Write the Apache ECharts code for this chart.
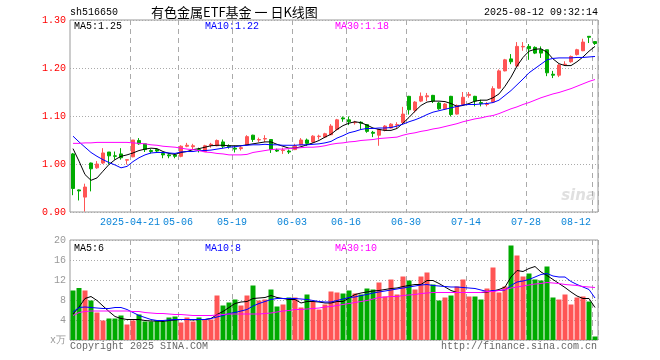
<!DOCTYPE html>
<html><head><meta charset="utf-8">
<script src="https://cdn.jsdelivr.net/npm/echarts/dist/echarts.min.js"></script>
<style>html,body{margin:0;padding:0;background:#fff}#c{width:660px;height:360px}</style>
</head><body><div id="c"></div>
<script>
const dates = [
'2025-04-07','2025-04-08','2025-04-09','2025-04-10','2025-04-11','2025-04-14','2025-04-15','2025-04-16','2025-04-17','2025-04-18',
'2025-04-21','2025-04-22','2025-04-23','2025-04-24','2025-04-25','2025-04-28','2025-04-29','2025-04-30',
'2025-05-06','2025-05-07','2025-05-08','2025-05-09','2025-05-12','2025-05-13','2025-05-14','2025-05-15','2025-05-16',
'2025-05-19','2025-05-20','2025-05-21','2025-05-22','2025-05-23','2025-05-26','2025-05-27','2025-05-28','2025-05-29','2025-05-30',
'2025-06-03','2025-06-04','2025-06-05','2025-06-06','2025-06-09','2025-06-10','2025-06-11','2025-06-12','2025-06-13',
'2025-06-16','2025-06-17','2025-06-18','2025-06-19','2025-06-20','2025-06-23','2025-06-24','2025-06-25','2025-06-26','2025-06-27',
'2025-06-30','2025-07-01','2025-07-02','2025-07-03','2025-07-04','2025-07-07','2025-07-08','2025-07-09','2025-07-10','2025-07-11',
'2025-07-14','2025-07-15','2025-07-16','2025-07-17','2025-07-18','2025-07-21','2025-07-22','2025-07-23','2025-07-24','2025-07-25',
'2025-07-28','2025-07-29','2025-07-30','2025-07-31','2025-08-01','2025-08-04','2025-08-05','2025-08-06','2025-08-07','2025-08-08',
'2025-08-11','2025-08-12'];
const tickDates = ['2025-04-21','2025-05-06','2025-05-19','2025-06-03','2025-06-16','2025-06-30','2025-07-14','2025-07-28','2025-08-12'];
const tickLabels = ['2025-04-21','05-06','05-19','06-03','06-16','06-30','07-14','07-28','08-12'];
const priceTicks = [0.9, 1.0, 1.1, 1.2, 1.3];
const volTicks = [0, 4, 8, 12, 16, 20];

const openP = [1.021,0.946,0.931,1.002,0.992,1.002,1.025,1.017,1.021,1.008,
1.015,1.049,1.042,1.028,1.030,1.022,1.019,1.019,1.016,1.037,
1.036,1.030,1.026,1.039,1.038,1.046,1.038,1.033,1.032,1.040,
1.060,1.050,1.052,1.051,1.029,1.028,1.027,1.030,1.040,1.050,
1.046,1.057,1.056,1.061,1.072,1.096,1.092,1.086,1.087,1.082,
1.066,1.060,1.070,1.075,1.081,1.086,1.141,1.112,1.131,1.140,
1.143,1.127,1.115,1.141,1.104,1.124,1.143,1.141,1.128,1.124,
1.129,1.158,1.194,1.219,1.204,1.244,1.245,1.243,1.238,1.238,
1.187,1.185,1.207,1.213,1.228,1.236,1.266,1.255];
const closeP = [0.949,0.944,0.952,0.990,1.000,1.023,1.017,1.016,1.013,1.009,
1.050,1.042,1.030,1.026,1.027,1.019,1.017,1.016,1.037,1.039,
1.038,1.028,1.038,1.041,1.049,1.037,1.036,1.031,1.034,1.057,
1.051,1.051,1.053,1.030,1.027,1.029,1.025,1.038,1.050,1.043,
1.058,1.058,1.063,1.079,1.092,1.094,1.088,1.087,1.085,1.068,
1.064,1.072,1.079,1.083,1.082,1.104,1.113,1.129,1.141,1.142,
1.131,1.115,1.125,1.103,1.122,1.139,1.145,1.131,1.126,1.125,
1.157,1.194,1.217,1.213,1.245,1.245,1.240,1.231,1.231,1.190,
1.185,1.206,1.208,1.224,1.238,1.254,1.264,1.251];
const lowP = [0.935,0.924,0.901,0.943,0.990,1.000,0.999,1.009,1.009,0.999,
1.014,1.040,1.025,1.022,1.024,1.012,1.012,1.012,1.014,1.035,
1.031,1.024,1.025,1.034,1.037,1.033,1.032,1.024,1.028,1.039,
1.046,1.046,1.046,1.023,1.025,1.021,1.021,1.029,1.039,1.038,
1.044,1.051,1.054,1.060,1.070,1.088,1.081,1.082,1.073,1.065,
1.056,1.038,1.068,1.074,1.075,1.085,1.103,1.107,1.129,1.131,
1.127,1.113,1.113,1.099,1.103,1.122,1.138,1.120,1.120,1.120,
1.127,1.157,1.193,1.208,1.202,1.236,1.217,1.229,1.221,1.183,
1.179,1.181,1.206,1.211,1.226,1.235,1.252,1.248];
const highP = [1.023,0.947,0.959,1.003,1.006,1.033,1.025,1.026,1.033,1.009,
1.050,1.054,1.042,1.031,1.032,1.024,1.022,1.021,1.039,1.044,
1.042,1.034,1.040,1.044,1.051,1.051,1.041,1.038,1.037,1.060,
1.061,1.055,1.060,1.052,1.032,1.034,1.030,1.042,1.054,1.053,
1.060,1.061,1.065,1.083,1.094,1.099,1.099,1.090,1.089,1.083,
1.069,1.073,1.081,1.085,1.087,1.119,1.142,1.131,1.149,1.148,
1.144,1.129,1.127,1.142,1.124,1.150,1.150,1.142,1.134,1.129,
1.162,1.197,1.219,1.229,1.254,1.254,1.250,1.245,1.245,1.238,
1.194,1.208,1.214,1.226,1.240,1.261,1.266,1.256];

const ma5 = [1.032,1.006,0.978,0.966,0.971,0.985,0.999,1.009,1.016,1.019,1.023,1.028,1.031,1.033,1.032,1.026,1.022,1.020,1.024,1.026,1.030,1.032,
1.035,1.038,1.039,1.039,1.038,1.038,1.038,1.040,1.042,1.044,1.046,1.046,1.041,1.037,1.033,1.033,1.036,1.040,1.044,1.049,1.056,1.062,
1.072,1.080,1.085,1.088,1.086,1.081,1.075,1.072,1.070,1.070,1.074,1.085,1.097,1.110,1.122,1.129,1.131,1.131,1.130,1.126,1.120,1.122,
1.126,1.131,1.133,1.133,1.138,1.146,1.162,1.181,1.204,1.222,1.235,1.239,1.240,1.233,1.219,1.209,1.205,1.205,1.213,1.223,1.235,1.245];
const ma10 = [1.058,1.046,1.035,1.024,1.016,1.009,1.003,0.998,0.992,0.995,1.005,1.013,1.019,1.023,1.024,1.024,1.023,1.022,1.025,1.026,1.026,1.028,
1.028,1.029,1.031,1.033,1.035,1.036,1.038,1.039,1.040,1.040,1.041,1.040,1.040,1.039,1.039,1.039,1.040,1.040,1.041,1.042,1.044,1.047,
1.054,1.059,1.065,1.068,1.072,1.074,1.074,1.075,1.075,1.076,1.079,1.083,1.088,1.092,1.097,1.103,1.108,1.111,1.114,1.117,1.120,1.123,
1.124,1.124,1.125,1.126,1.128,1.133,1.143,1.153,1.165,1.177,1.190,1.199,1.208,1.217,1.220,1.221,1.221,1.221,1.222,1.222,1.223,1.224];
const ma30 = [1.043,1.043,1.044,1.044,1.045,1.045,1.045,1.045,1.045,1.045,1.044,1.043,1.042,1.040,1.039,1.037,1.036,1.035,1.033,1.031,1.030,1.028,
1.025,1.024,1.022,1.021,1.019,1.019,1.019,1.020,1.024,1.026,1.028,1.030,1.031,1.031,1.032,1.033,1.034,1.035,1.035,1.036,1.038,1.041,
1.043,1.044,1.046,1.047,1.049,1.050,1.051,1.053,1.054,1.055,1.056,1.060,1.063,1.065,1.068,1.070,1.073,1.075,1.078,1.081,1.084,1.088,
1.091,1.094,1.096,1.099,1.101,1.105,1.110,1.115,1.119,1.124,1.128,1.133,1.138,1.142,1.146,1.149,1.153,1.157,1.162,1.167,1.172,1.176];

const volume = [9.9,10.4,9.9,7.9,5.5,3.9,4.3,4.3,4.9,3.1,
3.9,5.1,3.7,3.7,3.9,3.7,4.5,4.7,3.5,4.5,
3.7,4.5,4.1,4.1,8.9,6.9,7.5,8.1,6.9,8.9,
10.9,7.9,8.1,10.1,6.7,7.1,8.5,8.5,6.5,9.1,
7.7,6.1,7.1,9.7,9.5,9.3,9.9,9.3,9.1,10.3,
10.1,11.5,8.7,12.1,9.1,12.7,11.9,10.1,12.7,13.5,
11.1,7.9,8.5,8.9,10.7,12.1,8.7,8.7,8.1,10.3,
14.5,9.5,10.7,18.9,16.9,12.7,13.3,12.1,11.9,14.7,
8.5,8.1,9.1,7.1,8.5,8.7,7.7,0.7];
const vma5 = [5.2,6.6,8.3,8.7,7.9,6.8,5.7,4.7,4.3,4.1,4.1,4.1,3.9,3.8,3.8,3.7,3.9,4.0,4.1,4.1,4.0,4.1,
4.1,4.3,5.1,5.7,6.5,7.3,7.6,7.7,8.3,8.4,8.5,8.9,8.5,8.3,8.1,8.1,7.4,7.7,7.7,7.6,7.4,7.4,
7.7,7.7,8.4,9.1,9.4,9.6,9.8,9.9,10.1,10.3,10.4,10.7,10.9,11.1,11.1,11.9,11.9,11.3,10.6,9.9,9.5,9.5,
9.5,9.5,9.5,9.6,9.8,10.1,10.6,12.6,13.9,13.7,14.3,14.7,13.6,12.9,12.1,11.3,10.5,9.6,8.8,8.3,8.3,6.5];
const vma10 = [5.6,6.5,6.6,6.5,6.4,6.3,6.3,6.5,6.5,6.1,5.5,4.9,4.5,4.1,3.9,3.9,4.0,4.1,4.1,4.1,4.1,4.1,
4.1,4.3,4.6,4.9,5.3,5.5,5.8,6.1,6.8,7.3,7.7,8.1,8.3,8.3,8.3,8.3,8.2,8.1,7.9,7.7,7.6,7.6,
7.9,8.2,8.5,8.6,8.9,9.1,9.4,9.6,9.8,10.0,10.2,10.4,10.6,10.8,11.0,11.1,10.9,10.8,10.7,10.6,10.6,10.5,
10.4,10.3,10.0,9.7,9.9,9.9,10.0,10.9,11.6,11.8,12.1,12.6,13.1,13.3,12.8,12.6,12.6,11.7,11.1,10.6,10.1,8.4];
const vma30 = [4.9,5.5,5.7,5.8,5.8,5.8,5.8,5.8,5.8,5.8,5.7,5.7,5.5,5.4,5.3,5.3,5.2,5.1,5.1,5.0,4.9,4.9,
4.9,4.9,5.0,5.1,5.2,5.2,5.2,5.2,5.2,5.2,5.3,5.4,5.6,5.8,5.9,6.1,6.1,6.2,6.3,6.4,6.6,6.7,
6.9,7.1,7.3,7.5,7.7,7.9,8.2,8.5,8.6,8.7,8.7,8.9,9.0,9.1,9.3,9.4,9.5,9.5,9.5,9.5,9.5,9.5,
9.5,9.5,9.5,9.7,9.7,9.9,10.1,10.4,10.6,10.8,11.0,11.2,11.3,11.5,11.4,11.3,11.1,11.0,10.9,10.7,10.6,10.5];

const UP = '#ff5555', DOWN = '#00aa00';
const MONO = '"Liberation Mono", "DejaVu Sans Mono", monospace';
const GRID_COLOR = '#aaaaaa';

const candleData = dates.map((d, i) => [openP[i], closeP[i], lowP[i], highP[i]]);
const volData = volume.map((v, i) => ({ value: v, itemStyle: { color: closeP[i] >= openP[i] ? UP : DOWN } }));

const isTick = (i, v) => tickDates.indexOf(v) >= 0;

function xAxisCfg(gi, showLabel) {
  return {
    type: 'category', gridIndex: gi, data: dates, boundaryGap: true,
    axisLine: { show: false }, axisTick: { show: false },
    splitLine: { show: true, interval: isTick, lineStyle: { color: GRID_COLOR, type: [5, 4], width: 1 } },
    axisLabel: {
      show: showLabel, interval: isTick, margin: 5,
      formatter: v => {
        const k = tickDates.indexOf(v);
        const t = tickLabels[k];
        return k === tickDates.length - 1 ? '{e|' + t + '}' : '{m|' + t + '}';
      },
      rich: {
        m: { padding: [0, 6, 0, 0], color: '#0a84d8', fontFamily: MONO, fontSize: 10 },
        e: { padding: [0, 38, 0, 0], color: '#0a84d8', fontFamily: MONO, fontSize: 10 }
      }
    }
  };
}

function txt(x, y, text, color, font, align) {
  return { type: 'text', x: x, y: y, silent: true,
    style: { text: text, fill: color, font: font, align: align || 'left', verticalAlign: 'middle' } };
}

const chart = echarts.init(document.getElementById('c'), null, { renderer: 'canvas' });
chart.setOption({
  animation: false,
  backgroundColor: '#ffffff',
  grid: [
    { left: 70, right: 62, top: 20, height: 192, show: true, borderColor: '#999', borderWidth: 1, backgroundColor: 'transparent' },
    { left: 70, right: 62, top: 240, height: 100, show: true, borderColor: '#999', borderWidth: 1, backgroundColor: 'transparent' }
  ],
  xAxis: [xAxisCfg(0, true), xAxisCfg(1, false)],
  yAxis: [
    { type: 'value', gridIndex: 0, min: priceTicks[0], max: priceTicks[priceTicks.length - 1], interval: 0.1,
      axisLine: { show: false }, axisTick: { show: false },
      splitLine: { lineStyle: { color: GRID_COLOR, type: [1, 2] } },
      axisLabel: { color: '#ff0000', fontFamily: MONO, fontSize: 10, margin: 4, formatter: v => v.toFixed(2) } },
    { type: 'value', gridIndex: 1, min: volTicks[0], max: volTicks[volTicks.length - 1], interval: 4,
      axisLine: { show: false }, axisTick: { show: false },
      splitLine: { lineStyle: { color: GRID_COLOR, type: [1, 2] } },
      axisLabel: { color: '#999999', fontFamily: MONO, fontSize: 10, margin: 4,
        formatter: v => v === 0 ? 'x万' : String(v) } }
  ],
  series: [
    { type: 'candlestick', xAxisIndex: 0, yAxisIndex: 0, data: candleData, barWidth: 4,
      itemStyle: { color: UP, color0: DOWN, borderColor: UP, borderColor0: DOWN, borderWidth: 1 } },
    { type: 'line', xAxisIndex: 0, yAxisIndex: 0, data: ma5, symbol: 'none', lineStyle: { color: '#000', width: 1 } },
    { type: 'line', xAxisIndex: 0, yAxisIndex: 0, data: ma10, symbol: 'none', lineStyle: { color: '#0000ff', width: 1 } },
    { type: 'line', xAxisIndex: 0, yAxisIndex: 0, data: ma30, symbol: 'none', lineStyle: { color: '#ff00ff', width: 1 } },
    { type: 'bar', xAxisIndex: 1, yAxisIndex: 1, data: volData, barWidth: 5 },
    { type: 'line', xAxisIndex: 1, yAxisIndex: 1, data: vma5, symbol: 'none', lineStyle: { color: '#000', width: 1 } },
    { type: 'line', xAxisIndex: 1, yAxisIndex: 1, data: vma10, symbol: 'none', lineStyle: { color: '#0000ff', width: 1 } },
    { type: 'line', xAxisIndex: 1, yAxisIndex: 1, data: vma30, symbol: 'none', lineStyle: { color: '#ff00ff', width: 1 } }
  ],
  graphic: [
    txt(70, 12, 'sh516650', '#000', '10px ' + MONO),
    txt(151, 12, '有色金属ETF基金 一 日K线图', '#000', '13px "Noto Sans CJK SC"'),
    txt(598, 12, '2025-08-12 09:32:14', '#000', '10px ' + MONO, 'right'),
    txt(74, 26, 'MA5:' + ma5[ma5.length - 1].toFixed(2), '#000', '10px ' + MONO),
    txt(205, 26, 'MA10:' + ma10[ma10.length - 1].toFixed(2), '#0000ff', '10px ' + MONO),
    txt(335, 26, 'MA30:' + ma30[ma30.length - 1].toFixed(2), '#ff00ff', '10px ' + MONO),
    txt(74, 248, 'MA5:' + Math.floor(vma5[vma5.length - 1]), '#000', '10px ' + MONO),
    txt(205, 248, 'MA10:' + Math.floor(vma10[vma10.length - 1]), '#0000ff', '10px ' + MONO),
    txt(335, 248, 'MA30:' + Math.floor(vma30[vma30.length - 1]), '#ff00ff', '10px ' + MONO),
    txt(70, 346, 'Copyright 2025 SINA.COM', '#666', '10px ' + MONO),
    txt(597, 346, 'http://finance.sina.com.cn', '#666', '10px ' + MONO, 'right'),
    txt(596, 196, 'sina', '#e0e0e0', 'italic bold 15px "DejaVu Sans"', 'right')
  ]
});
</script>
</body></html>
